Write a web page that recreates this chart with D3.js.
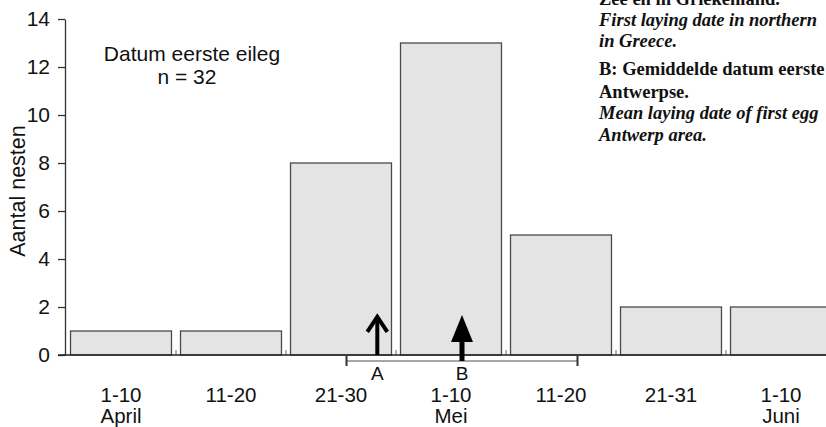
<!DOCTYPE html>
<html>
<head>
<meta charset="utf-8">
<script src="https://cdn.jsdelivr.net/npm/d3@7"></script>
<style>
  body { margin: 0; background: #fff; }
  svg { display: block; }
</style>
</head>
<body>
<svg id="chart"></svg>
<script>
// Data
const periods = ["1-10", "11-20", "21-30", "1-10", "11-20", "21-31", "1-10"];
const months = ["April", "", "", "Mei", "", "", "Juni"];
const nests = [1, 1, 8, 13, 5, 2, 2];
const yTicks = [0, 2, 4, 6, 8, 10, 12, 14];

// markers, in days after 31 March
const markers = [
  { label: "A", day: 28.3, filled: false },
  { label: "B", day: 36.0, filled: true }
];
const rangeDays = [25.5, 46.5];

const notes = [
  { text: "Zee en in Griekenland.", italic: false, y: 5 },
  { text: "First laying date in northern", italic: true, y: 26 },
  { text: "in Greece.", italic: true, y: 47 },
  { text: "B: Gemiddelde datum eerste", italic: false, y: 75 },
  { text: "Antwerpse.", italic: false, y: 98 },
  { text: "Mean laying date of first egg", italic: true, y: 119 },
  { text: "Antwerp area.", italic: true, y: 141 }
];

const width = 826, height = 427;
const sans = "'Liberation Sans', Arial, sans-serif";
const serif = "'Liberation Serif', 'Times New Roman', serif";

const svg = d3.select("#chart")
  .attr("width", width)
  .attr("height", height);

const x = d3.scaleBand()
  .domain(d3.range(periods.length))
  .range([66, 836])
  .paddingInner(0.082)
  .paddingOuter(0.041);

const xDay = d3.scaleLinear().domain([0, 70]).range([66, 836]);
const y = d3.scaleLinear().domain([0, 14]).range([355, 19]);

// bars
svg.append("g")
  .selectAll("rect")
  .data(nests)
  .join("rect")
  .attr("x", (d, i) => x(i))
  .attr("y", d => y(d))
  .attr("width", x.bandwidth())
  .attr("height", d => y(0) - y(d))
  .attr("fill", "#e4e4e4")
  .attr("stroke", "#4a4a4a")
  .attr("stroke-width", 1.3);

// small separators on the baseline
svg.append("g")
  .selectAll("line")
  .data(d3.range(1, periods.length))
  .join("line")
  .attr("x1", i => x(i) - x.step() * x.paddingInner() / 2)
  .attr("x2", i => x(i) - x.step() * x.paddingInner() / 2)
  .attr("y1", y(0))
  .attr("y2", y(0) - 5)
  .attr("stroke", "#666")
  .attr("stroke-width", 1);

// y axis
const yAxis = svg.append("g")
  .attr("transform", "translate(65,0)")
  .call(d3.axisLeft(y).tickValues(yTicks).tickSize(7).tickSizeOuter(0).tickPadding(8));
yAxis.select(".domain").attr("stroke", "#333").attr("stroke-width", 1.3);
yAxis.selectAll(".tick line").attr("stroke", "#333").attr("stroke-width", 1.3);
yAxis.selectAll(".tick text")
  .style("font-family", sans)
  .style("font-size", "21px")
  .attr("fill", "#111");

// baseline
svg.append("line")
  .attr("x1", 58).attr("x2", width)
  .attr("y1", y(0)).attr("y2", y(0))
  .attr("stroke", "#222")
  .attr("stroke-width", 1.5);

// x labels
const xl = svg.append("g")
  .selectAll("g")
  .data(periods)
  .join("g")
  .attr("transform", (d, i) => `translate(${x(i) + x.bandwidth() / 2},0)`);
xl.append("text")
  .attr("y", 402)
  .attr("text-anchor", "middle")
  .style("font-family", sans)
  .style("font-size", "20.5px")
  .attr("fill", "#111")
  .text(d => d);
xl.append("text")
  .attr("y", 423)
  .attr("text-anchor", "middle")
  .style("font-family", sans)
  .style("font-size", "20.5px")
  .attr("fill", "#111")
  .text((d, i) => months[i]);

// y title
svg.append("text")
  .attr("transform", "translate(25,191) rotate(-90)")
  .attr("text-anchor", "middle")
  .style("font-family", sans)
  .style("font-size", "21.5px")
  .attr("fill", "#111")
  .text("Aantal nesten");

// inner title
svg.append("text")
  .attr("x", 192).attr("y", 61)
  .attr("text-anchor", "middle")
  .style("font-family", sans)
  .style("font-size", "21px")
  .attr("fill", "#111")
  .text("Datum eerste eileg");
svg.append("text")
  .attr("x", 187).attr("y", 84)
  .attr("text-anchor", "middle")
  .style("font-family", sans)
  .style("font-size", "21px")
  .attr("fill", "#111")
  .text("n = 32");

// range bracket
const by = y(0) + 6;
svg.append("line")
  .attr("x1", xDay(rangeDays[0])).attr("x2", xDay(rangeDays[1]))
  .attr("y1", by).attr("y2", by)
  .attr("stroke", "#888").attr("stroke-width", 1.5);
svg.append("g")
  .selectAll("line")
  .data(rangeDays)
  .join("line")
  .attr("x1", d => xDay(d)).attr("x2", d => xDay(d))
  .attr("y1", by - 5).attr("y2", by + 5)
  .attr("stroke", "#333").attr("stroke-width", 2);

// arrows
const tip = y(1.67);
markers.forEach(m => {
  const cx = xDay(m.day);
  if (m.filled) {
    svg.append("line")
      .attr("x1", cx).attr("x2", cx)
      .attr("y1", by).attr("y2", tip + 20)
      .attr("stroke", "#000").attr("stroke-width", 5);
    svg.append("path")
      .attr("d", `M${cx - 11},${tip + 27} L${cx},${tip} L${cx + 11},${tip + 27} Z`)
      .attr("fill", "#000");
  } else {
    svg.append("line")
      .attr("x1", cx).attr("x2", cx)
      .attr("y1", y(0)).attr("y2", tip + 2)
      .attr("stroke", "#000").attr("stroke-width", 4);
    svg.append("path")
      .attr("d", `M${cx - 10},${tip + 17} L${cx},${tip + 2} L${cx + 10},${tip + 17}`)
      .attr("fill", "none")
      .attr("stroke", "#000")
      .attr("stroke-width", 4);
  }
  svg.append("text")
    .attr("x", cx).attr("y", 380)
    .attr("text-anchor", "middle")
    .style("font-family", sans)
    .style("font-size", "19px")
    .attr("fill", "#111")
    .text(m.label);
});

// notes on the right (cut off in the original scan)
svg.append("g")
  .selectAll("text")
  .data(notes)
  .join("text")
  .attr("x", 599)
  .attr("y", d => d.y)
  .style("font-family", serif)
  .style("font-size", "18.5px")
  .style("font-weight", "bold")
  .style("font-style", d => d.italic ? "italic" : "normal")
  .attr("fill", "#111")
  .text(d => d.text);
</script>
</body>
</html>
